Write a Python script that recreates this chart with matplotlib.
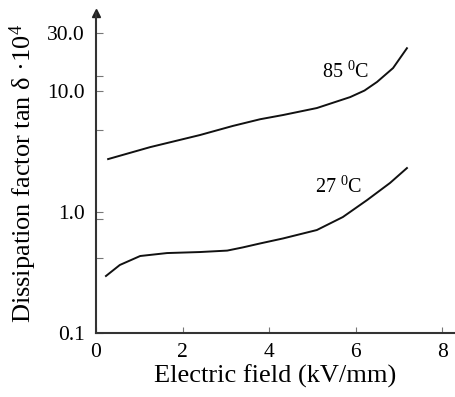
import matplotlib
matplotlib.use("Agg")
import matplotlib.pyplot as plt

plt.rcParams['font.family'] = ['Liberation Serif', 'DejaVu Serif']
plt.rcParams['mathtext.fontset'] = 'custom'
plt.rcParams['mathtext.rm'] = 'Liberation Serif'
plt.rcParams['mathtext.it'] = 'Liberation Serif:italic'

# Data
field_85 = [0.28, 1.25, 2.40, 3.16, 3.79, 4.32, 5.10, 5.87, 6.20, 6.49, 6.86, 7.18]
tand_85 = [2.74, 3.44, 4.33, 5.15, 5.85, 6.34, 7.24, 8.92, 10.1, 11.9, 15.5, 22.6]

field_27 = [0.23, 0.55, 1.02, 1.64, 2.40, 3.03, 3.39, 3.79, 4.32, 5.10, 5.70, 6.26, 6.79, 7.18]
tand_27 = [0.296, 0.365, 0.433, 0.458, 0.467, 0.480, 0.510, 0.550, 0.605, 0.710, 0.909, 1.256, 1.74, 2.31]

x_ticks = [0, 2, 4, 6, 8]
y_ticks = [0.1, 1.0, 10.0, 30.0]
y_ticklabels = ['0.1', '1.0', '10.0', '30.0']
y_minor = [0.42, 0.87, 4.8, 13.3]

fig = plt.figure(figsize=(4.55, 3.97), dpi=100)
ax = fig.add_axes([96/455, 64/397, 359/455, 320/397])

ax.plot(field_85, tand_85, color='#111111', lw=1.4)
ax.plot(field_27, tand_27, color='#111111', lw=1.4)

ax.set_yscale('log')
ax.set_xlim(0, 8.29)
ax.set_ylim(0.1, 44.2)

ax.set_xticks(x_ticks)
ax.set_xticklabels([str(v) for v in x_ticks], fontsize=15.5)
ax.set_yticks(y_ticks)
ax.set_yticklabels(y_ticklabels, fontsize=15.5)
ax.set_yticks(y_minor, minor=True)
ax.yaxis.set_minor_formatter(matplotlib.ticker.NullFormatter())

ax.tick_params(axis='x', direction='in', length=4, width=0.8, color='#777777', pad=7)
ax.tick_params(axis='y', which='both', direction='in', length=5, width=0.8, color='#777777', pad=8)

for s in ['top', 'right']:
    ax.spines[s].set_visible(False)
ax.spines['left'].set_linewidth(1.5)
ax.spines['bottom'].set_linewidth(1.5)
ax.spines['left'].set_color('#333333')
ax.spines['bottom'].set_color('#333333')

# arrow on top of y axis
ax.plot([0], [1.0], marker='^', color='#222222', markersize=6,
        transform=ax.transAxes, clip_on=False)

ax.set_xlabel('Electric field (kV/mm)', fontsize=19, labelpad=2)
ax.set_ylabel('Dissipation factor tan δ ·10$^{4}$', fontsize=19, labelpad=6)

ax.text(5.77, 14.4, '85 $^{0}$C', fontsize=14.5, ha='center', va='center')
ax.text(5.61, 1.61, '27 $^{0}$C', fontsize=14.5, ha='center', va='center')

fig.savefig('out.png', dpi=100)
